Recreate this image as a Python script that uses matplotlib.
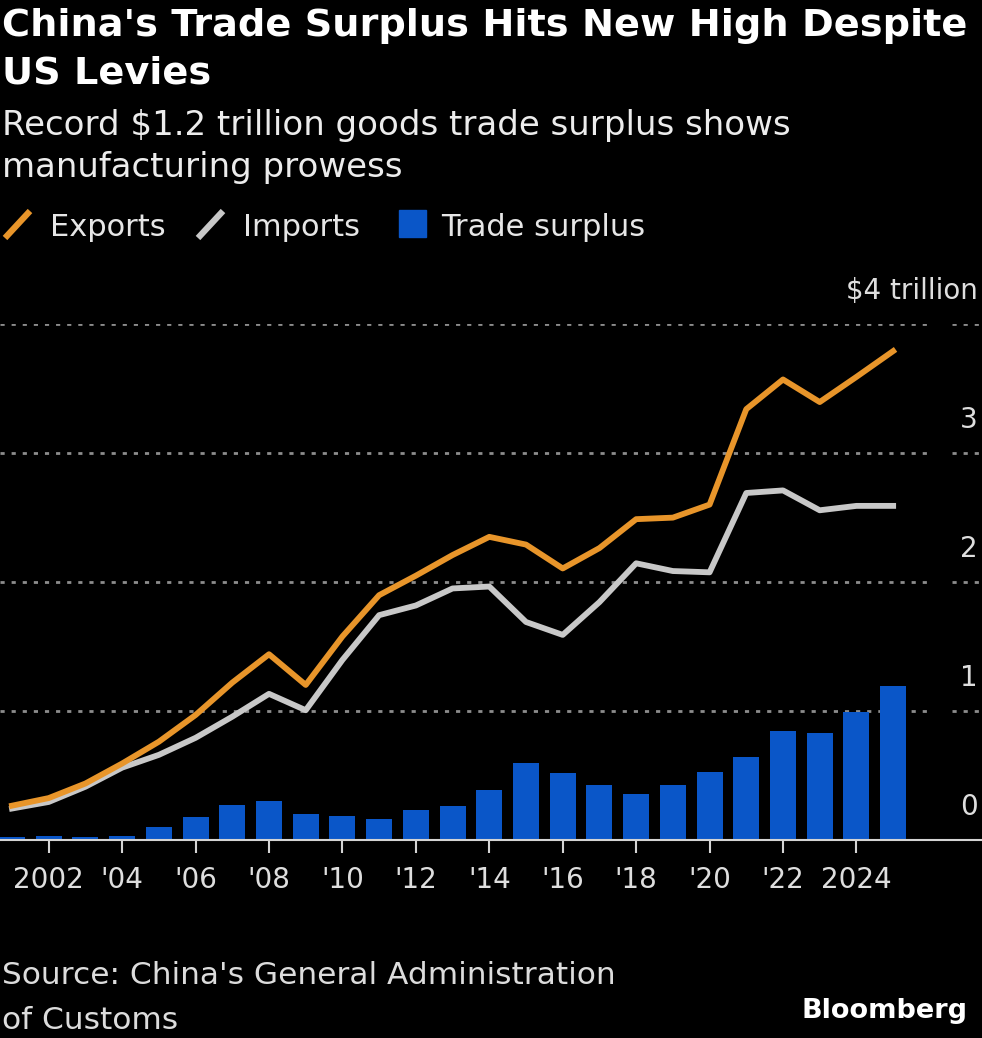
import matplotlib
matplotlib.use('Agg')
import matplotlib.pyplot as plt
import matplotlib.transforms as mtransforms
from matplotlib.lines import Line2D
from matplotlib.patches import Rectangle

# China goods trade, $ trillion
years = list(range(2001, 2026))
exports = [0.266, 0.325, 0.438, 0.593, 0.762, 0.969, 1.220, 1.440, 1.202, 1.578,
           1.898, 2.049, 2.209, 2.350, 2.290, 2.105, 2.263, 2.487, 2.499, 2.600,
           3.340, 3.570, 3.395, 3.590, 3.790]
imports = [0.244, 0.295, 0.413, 0.561, 0.660, 0.792, 0.956, 1.133, 1.006, 1.396,
           1.743, 1.818, 1.950, 1.965, 1.690, 1.590, 1.844, 2.145, 2.085, 2.075,
           2.690, 2.710, 2.556, 2.590, 2.590]
surplus = [0.023, 0.030, 0.025, 0.032, 0.102, 0.178, 0.268, 0.305, 0.200, 0.185,
           0.160, 0.235, 0.262, 0.385, 0.600, 0.520, 0.430, 0.357, 0.425, 0.530,
           0.645, 0.845, 0.830, 0.995, 1.190]

tick_years = list(range(2002, 2025, 2))
tick_labels = ['2002', "'04", "'06", "'08", "'10", "'12", "'14", "'16", "'18",
               "'20", "'22", '2024']
y_ticks = [0, 1, 2, 3, 4]
y_labels = ['0', '1', '2', '3', '\\$4 trillion']

W, H = 982, 1038
orange = '#e8952a'
grey = '#c8c8c8'
blue = '#0a56c8'


def fx(x):
    return x / W


def fy(y):
    return 1 - y / H


fig = plt.figure(figsize=(W / 100, H / 100), dpi=100, facecolor='black')

ax = fig.add_axes([0, fy(840), 1, (840 - 324) / H])
ax.set_facecolor('black')
ax.bar(years, surplus, width=0.71, color=blue, zorder=2)
ax.plot(years, imports, color=grey, lw=4.2, zorder=3, clip_on=False)
ax.plot(years, exports, color=orange, lw=4.2, zorder=4, clip_on=False)
ax.set_xlim(2000.673, 2027.42)
ax.set_ylim(0, 4)

# dashed grid, broken just left of the value labels
for v in y_ticks[1:]:
    ax.axhline(v, xmin=0, xmax=930 / W, color='#8c8c8c', lw=2,
               dashes=(1.5, 2.5), zorder=1)
    ax.axhline(v, xmin=952 / W, xmax=1, color='#8c8c8c', lw=2,
               dashes=(1.5, 2.5), zorder=1)

for s in ['top', 'left', 'right']:
    ax.spines[s].set_visible(False)
ax.spines['bottom'].set_color('#d4d4d4')
ax.spines['bottom'].set_linewidth(1.5)
ax.spines['bottom'].set_zorder(5)

ax.set_yticks([])
ax.set_xticks(tick_years, tick_labels)
ax.tick_params(axis='x', length=9.4, width=1.5, color='#d4d4d4', pad=9,
               labelsize=20, labelcolor='#dedede')

trans = mtransforms.blended_transform_factory(fig.transFigure, ax.transData)
trans = mtransforms.offset_copy(trans, fig=fig, y=25, units='dots')
for v, lab in zip(y_ticks, y_labels):
    ax.text(fx(978), v, lab, transform=trans, ha='right', va='baseline',
            fontsize=20, color='#dedede')

# title block
fig.text(fx(2), fy(36), "China's Trade Surplus Hits New High Despite",
         fontsize=27.5, weight='bold', color='white', va='baseline')
fig.text(fx(2), fy(84), "US Levies", fontsize=27.5, weight='bold',
         color='white', va='baseline')
fig.text(fx(2), fy(135), "Record \\$1.2 trillion goods trade surplus shows",
         fontsize=24.5, color='#ececec', va='baseline')
fig.text(fx(2), fy(177), "manufacturing prowess", fontsize=24.5,
         color='#ececec', va='baseline')

# legend
fig.add_artist(Line2D([fx(5), fx(30)], [fy(238), fy(211)], color=orange,
                      lw=4.5, solid_capstyle='butt'))
fig.add_artist(Line2D([fx(198), fx(223)], [fy(238), fy(211)], color=grey,
                      lw=4.5, solid_capstyle='butt'))
fig.add_artist(Rectangle((fx(399), fy(237)), 27 / W, 27 / H, color=blue))
fig.text(fx(50), fy(236), 'Exports', fontsize=22, color='#e6e6e6', va='baseline')
fig.text(fx(243), fy(236), 'Imports', fontsize=22, color='#e6e6e6', va='baseline')
fig.text(fx(441), fy(236), 'Trade surplus', fontsize=22, color='#e6e6e6',
         va='baseline')

# footer
fig.text(fx(2), fy(984), "Source: China's General Administration", fontsize=22.5,
         color='#dcdcdc', va='baseline')
fig.text(fx(2), fy(1029), "of Customs", fontsize=22.5, color='#dcdcdc',
         va='baseline')
fig.text(fx(968), fy(1018), 'Bloomberg', fontsize=19.5, weight='bold',
         color='white', ha='right', va='baseline')

fig.savefig('out.png', dpi=100, facecolor='black')
